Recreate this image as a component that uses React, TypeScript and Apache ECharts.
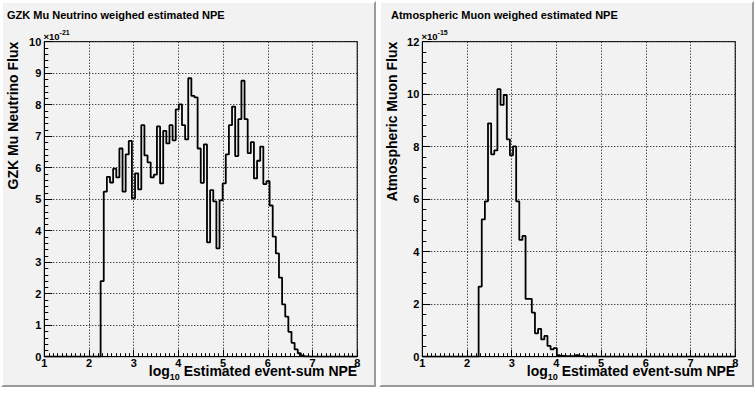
import React, { useEffect, useRef } from "react";
import * as echarts from "echarts";

// ---- data ----
const BIN_MIN = 1;
const BIN_WIDTH = 0.07;
const NBINS = 100;
const xTickValues = [1, 2, 3, 4, 5, 6, 7, 8];

// GZK Mu Neutrino flux (x 1e-21), bins starting at bin index 18
const gzkFirstBin = 18;
const gzkFlux = [
  2.4, 5.24, 5.71, 5.53, 5.97, 5.69, 6.61, 5.24, 6.42, 6.85,
  5.03, 5.82, 5.31, 7.35, 6.39, 6.17, 5.69, 5.78, 7.31, 5.5,
  7.17, 6.77, 7.35, 6.87, 7.85, 8.01, 7.35, 6.9, 8.84, 8.28,
  8.23, 6.61, 5.52, 6.74, 3.63, 5.29, 4.93, 3.44, 4.96, 5.5,
  6.42, 7.35, 7.94, 6.37, 7.54, 8.76, 7.54, 6.46, 6.81, 5.66,
  6.22, 6.67, 5.48, 5.57, 4.8, 3.81, 3.28, 2.51, 1.66, 1.27,
  0.79, 0.44, 0.23, 0.11, 0.04, 0.01,
];

// Atmospheric muon flux (x 1e-15), bins starting at bin index 18
const muonFirstBin = 18;
const muonFlux = [
  2.67, 5.23, 5.92, 8.89, 7.71, 7.86, 10.19, 9.59, 9.97, 8.28,
  7.67, 8.01, 5.92, 4.45, 4.6, 2.2, 2.2, 1.68, 0.89, 1.06,
  0.66, 0.79, 0.41, 0.28, 0.33, 0.06, 0.03, 0.02, 0.02, 0.02,
  0.02, 0.06, 0.02, 0.03, 0, 0.01, 0.02,
];

const leftTitle = "GZK Mu Neutrino weighed estimated NPE";
const rightTitle = "Atmospheric Muon weighed estimated NPE";
const leftYTitle = "GZK Mu Neutrino Flux";
const rightYTitle = "Atmospheric Muon Flux";
const leftExp = "-21";
const rightExp = "-15";

const FONT = '"Liberation Sans", Arial, Helvetica, sans-serif';

function histPoints(first: number, vals: number[]) {
  const pts: number[][] = [];
  for (let i = 0; i < NBINS; i++) {
    const k = i - first;
    const v = k >= 0 && k < vals.length ? vals[k] : 0;
    pts.push([BIN_MIN + i * BIN_WIDTH, v]);
  }
  pts.push([BIN_MIN + NBINS * BIN_WIDTH, 0]);
  return pts;
}

let ctx: CanvasRenderingContext2D | null = null;
function measure(text: string, size: number) {
  if (!ctx) ctx = document.createElement("canvas").getContext("2d");
  ctx!.font = `bold ${size}px ${FONT}`;
  return ctx!.measureText(text).width;
}

function txt(x: number, y: number, text: string, size: number, opts: any = {}) {
  return {
    type: "text",
    x,
    y,
    rotation: opts.rotation || 0,
    silent: true,
    style: {
      text,
      fill: "#000",
      fontSize: size,
      fontWeight: "bold",
      fontFamily: FONT,
      align: opts.align || "left",
      verticalAlign: opts.verticalAlign || "middle",
    },
  };
}

const GRID_TOP = 41.7;
const GRID_H = 315;
const GRID_W = 312.9;
const LEFT_X = 44.3;
const RIGHT_X = 422.3;

function xAxisDef(gridIndex: number) {
  return {
    type: "value",
    gridIndex,
    min: xTickValues[0],
    max: xTickValues[xTickValues.length - 1],
    interval: 1,
    axisLine: { show: true, onZero: false, lineStyle: { color: "#000", width: 1 } },
    axisTick: { show: true, inside: true, length: 7, lineStyle: { color: "#000", width: 1 } },
    minorTick: { show: true, splitNumber: 10, length: 3.5, lineStyle: { color: "#000", width: 1 } },
    axisLabel: { color: "#000", fontSize: 11, fontWeight: "bold", fontFamily: FONT, margin: 1, lineHeight: 11 },
    splitLine: { show: true, lineStyle: { color: "#000", width: 1, type: [1, 2] } },
  };
}

function yAxisDef(gridIndex: number, max: number, interval: number, minorSplit: number) {
  return {
    type: "value",
    gridIndex,
    min: 0,
    max,
    interval,
    axisLine: { show: true, lineStyle: { color: "#000", width: 1 } },
    axisTick: { show: true, inside: true, length: 8, lineStyle: { color: "#000", width: 1 } },
    minorTick: { show: true, splitNumber: minorSplit, length: 4, lineStyle: { color: "#000", width: 1 } },
    axisLabel: { color: "#000", fontSize: 11, fontWeight: "bold", fontFamily: FONT, margin: 3 },
    splitLine: { show: true, lineStyle: { color: "#000", width: 1, type: [1, 2] } },
  };
}

function padGraphics(x0: number, y0: number, w: number, h: number) {
  const b = 2;
  const x1 = x0 + w;
  const y1 = y0 + h;
  return [
    { type: "rect", silent: true, shape: { x: x0, y: y0, width: w, height: h }, style: { fill: "#f2f2f2" } },
    {
      type: "polygon",
      silent: true,
      shape: { points: [[x0, y0], [x1, y0], [x1 - b, y0 + b], [x0 + b, y0 + b], [x0 + b, y1 - b], [x0, y1]] },
      style: { fill: "#ffffff" },
    },
    {
      type: "polygon",
      silent: true,
      shape: { points: [[x1, y0], [x1, y1], [x0, y1], [x0 + b, y1 - b], [x1 - b, y1 - b], [x1 - b, y0 + b]] },
      style: { fill: "#9a9a9a" },
    },
  ];
}

function xTitle(rightEdge: number) {
  const s1 = "log";
  const s2 = "10";
  const s3 = " Estimated event-sum NPE";
  const w1 = measure(s1, 14);
  const w2 = measure(s2, 9);
  const w3 = measure(s3, 14);
  const x = rightEdge - (w1 + w2 + w3);
  return [
    txt(x, 371, s1, 14),
    txt(x + w1, 377, s2, 9),
    txt(x + w1 + w2, 371, s3, 14),
  ];
}

function expLabel(x: number, exp: string) {
  const base = "\u00d710";
  const wb = measure(base, 9.5);
  return [txt(x, 36.5, base, 9.5), txt(x + wb, 32.5, exp, 7)];
}

export default function App() {
  const ref = useRef<HTMLDivElement>(null);
  useEffect(() => {
    if (!ref.current) return;
    const chart = echarts.init(ref.current, undefined, { renderer: "svg" });
    const graphics: any[] = [
      ...padGraphics(1, 1, 375, 386),
      ...padGraphics(379, 1, 375, 386),
      txt(7, 15, leftTitle, 11),
      txt(391, 15, rightTitle, 11),
      txt(13, GRID_TOP, leftYTitle, 14, { rotation: Math.PI / 2, align: "right" }),
      txt(392, GRID_TOP, rightYTitle, 14, { rotation: Math.PI / 2, align: "right" }),
      ...xTitle(LEFT_X + GRID_W),
      ...xTitle(RIGHT_X + GRID_W),
      ...expLabel(LEFT_X - 0.8, leftExp),
      ...expLabel(RIGHT_X - 0.8, rightExp),
    ];
    chart.setOption({
      animation: false,
      backgroundColor: "#ffffff",
      graphic: { elements: graphics.map((g) => ({ ...g, z: -10, zlevel: 0 })) },
      grid: [
        { left: LEFT_X, top: GRID_TOP, width: GRID_W, height: GRID_H, show: true, borderColor: "#000", borderWidth: 1, backgroundColor: "transparent" },
        { left: RIGHT_X, top: GRID_TOP, width: GRID_W, height: GRID_H, show: true, borderColor: "#000", borderWidth: 1, backgroundColor: "transparent" },
      ],
      xAxis: [xAxisDef(0), xAxisDef(1)],
      yAxis: [yAxisDef(0, 10, 1, 5), yAxisDef(1, 12, 2, 5)],
      series: [
        {
          type: "line",
          xAxisIndex: 0,
          yAxisIndex: 0,
          step: "end",
          symbol: "none",
          data: histPoints(gzkFirstBin, gzkFlux),
          lineStyle: { color: "#000", width: 1.8 },
          z: 5,
        },
        {
          type: "line",
          xAxisIndex: 1,
          yAxisIndex: 1,
          step: "end",
          symbol: "none",
          data: histPoints(muonFirstBin, muonFlux),
          lineStyle: { color: "#000", width: 1.8 },
          z: 5,
        },
      ],
    });
    return () => chart.dispose();
  }, []);
  return <div ref={ref} style={{ position: "fixed", left: 0, top: 0, width: 756, height: 394 }} />;
}
